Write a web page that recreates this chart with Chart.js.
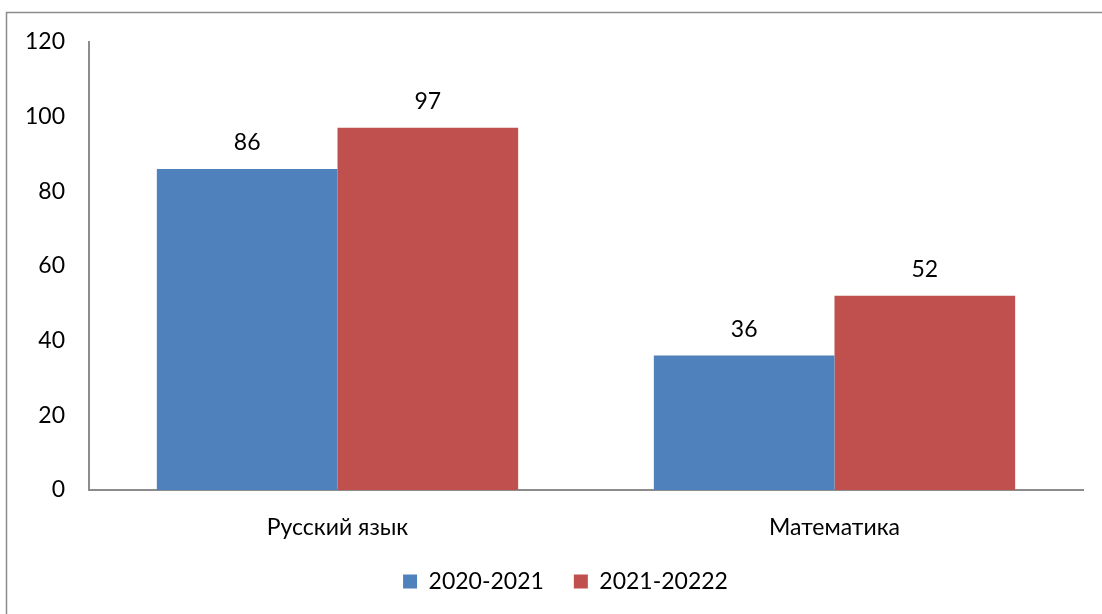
<!DOCTYPE html>
<html>
<head>
<meta charset="utf-8">
<script src="https://cdn.jsdelivr.net/npm/chart.js@4"></script>
<style>
  html, body { margin: 0; padding: 0; background: #fff; }
  #wrap { width: 1102px; height: 614px; position: relative; }
</style>
</head>
<body>
<div id="wrap"><canvas id="barChart" width="1102" height="614"></canvas></div>
<script>
const categories = ['Русский язык', 'Математика'];
const seriesNames = ['2020-2021', '2021-20222'];
const values2020 = [86, 36];
const values2021 = [97, 52];
const yTicks = [0, 20, 40, 60, 80, 100, 120];

const FONT = 'Lato, "Open Sans", sans-serif';
const SIZE = 23;

// frame around the chart (only top and left visible in the picture)
const framePlugin = {
  id: 'frame',
  beforeDraw(chart) {
    const ctx = chart.ctx;
    ctx.save();
    ctx.strokeStyle = '#8c8c8c';
    ctx.lineWidth = 1.5;
    ctx.beginPath();
    ctx.moveTo(6.5, chart.height);
    ctx.lineTo(6.5, 12.5);
    ctx.lineTo(chart.width, 12.5);
    ctx.stroke();
    ctx.restore();
  },
  // legend sits a bit right of the canvas centre in the original
  afterLayout(chart) {
    chart.legend.left += 24;
    chart.legend.right += 24;
  }
};

// value labels above bars
const valueLabels = {
  id: 'valueLabels',
  afterDatasetsDraw(chart) {
    const ctx = chart.ctx;
    ctx.save();
    ctx.font = SIZE + 'px ' + FONT;
    ctx.fillStyle = '#000';
    ctx.textAlign = 'center';
    ctx.textBaseline = 'middle';
    chart.data.datasets.forEach((ds, i) => {
      chart.getDatasetMeta(i).data.forEach((bar, j) => {
        ctx.fillText(ds.data[j], bar.x, bar.y - 26);
      });
    });
    ctx.restore();
  }
};

const ctx = document.getElementById('barChart').getContext('2d');
new Chart(ctx, {
  type: 'bar',
  data: {
    labels: categories,
    datasets: [
      { label: seriesNames[0], data: values2020, backgroundColor: '#4F81BD' },
      { label: seriesNames[1], data: values2021, backgroundColor: '#C0504D' }
    ]
  },
  options: {
    responsive: false,
    animation: false,
    layout: { padding: { top: 42, right: 19, bottom: 11, left: 0 } },
    datasets: { bar: { barPercentage: 1, categoryPercentage: 0.727 } },
    plugins: {
      tooltip: { enabled: false },
      legend: {
        position: 'bottom',
        labels: {
          boxWidth: 14,
          boxHeight: 14,
          padding: 30,
          color: '#000',
          font: { family: FONT, size: SIZE }
        }
      }
    },
    scales: {
      x: {
        grid: { display: false, drawTicks: false },
        border: { color: '#8c8c8c', width: 2 },
        ticks: { color: '#000', padding: 24, font: { family: FONT, size: SIZE } },
        afterFit(scale) { scale.height = 50; }
      },
      y: {
        min: 0,
        max: 120,
        grid: { display: false, drawTicks: false },
        border: { color: '#8c8c8c', width: 2 },
        afterBuildTicks(scale) { scale.ticks = yTicks.map(v => ({ value: v })); },
        ticks: { color: '#000', padding: 24, font: { family: FONT, size: SIZE } },
        afterFit(scale) { scale.width = 89; }
      }
    }
  },
  plugins: [framePlugin, valueLabels]
});
</script>
</body>
</html>
